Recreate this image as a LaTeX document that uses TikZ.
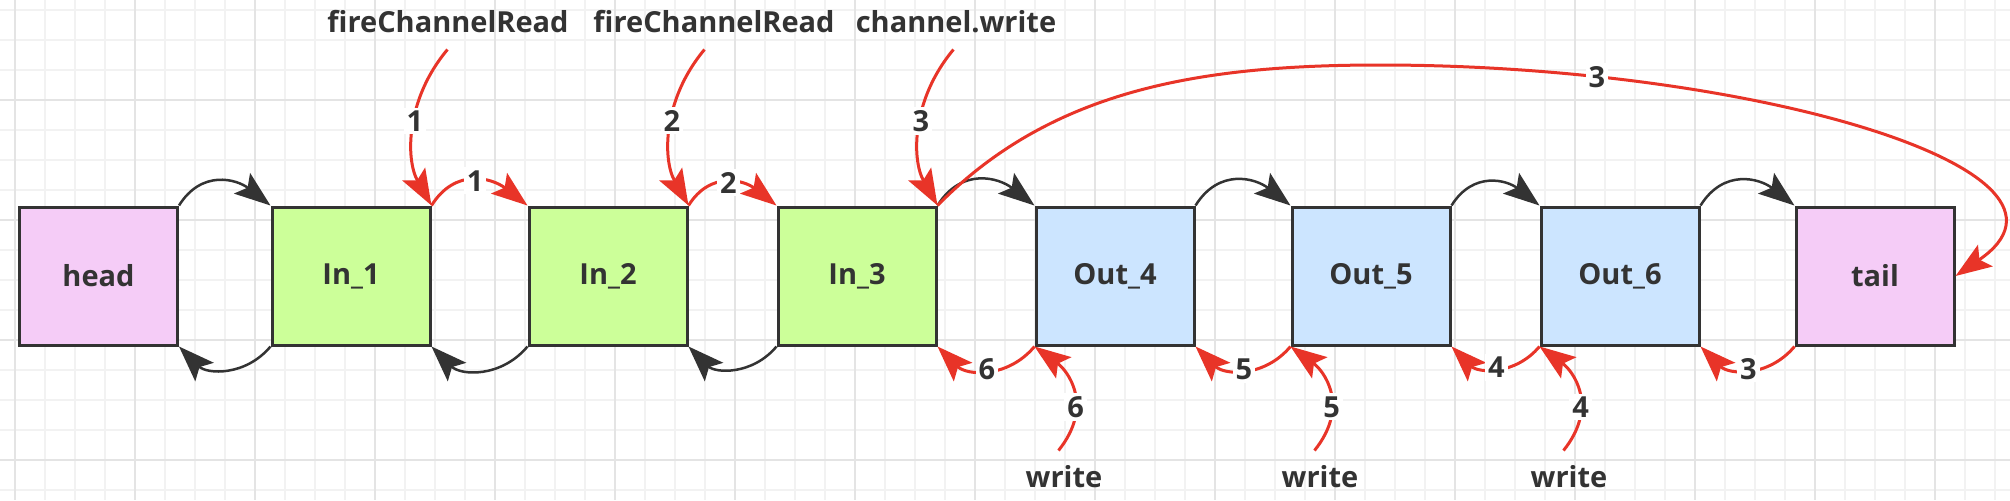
\documentclass[tikz,border=0pt]{standalone}
\usepackage{fontspec}
\setmainfont{Open Sans}
\usetikzlibrary{arrows.meta,calc}
\definecolor{gridminor}{RGB}{242,242,242}
\definecolor{gridmajor}{RGB}{228,228,228}
\definecolor{ink}{RGB}{51,51,51}
\definecolor{redline}{RGB}{232,52,40}
\definecolor{pinkfill}{RGB}{245,204,247}
\definecolor{greenfill}{RGB}{204,255,153}
\definecolor{bluefill}{RGB}{204,229,255}
\begin{document}
\begin{tikzpicture}[x=0.5pt,y=-0.5pt,
  txt/.style={font=\fontsize{14.5}{17}\selectfont\bfseries, text=ink},
  box/.style={txt, draw=ink, line width=1.5pt, minimum width=79pt, minimum height=69pt, inner sep=0pt},
  blk/.style={draw=ink, line width=1.25pt, -{Stealth[length=18pt,width=13pt,inset=3.5pt]}},
  rd/.style={draw=redline, line width=1.5pt, -{Stealth[length=18pt,width=13pt,inset=3.5pt]}},
  lbl/.style={txt, fill=white, inner sep=1.5pt},
  fwd/.style={out=58,in=142,looseness=1.2},
  bwd/.style={out=-130,in=-45,looseness=1.1},
]
\useasboundingbox (0,0) rectangle (2010,500);
\fill[white] (0,0) rectangle (2010,500);
% grid
\foreach \i in {0,...,66} { \draw[gridminor, line width=0.6pt] ({15+30*\i},0) -- ({15+30*\i},500); }
\foreach \i in {0,...,16} { \draw[gridminor, line width=0.6pt] (0,{10+30*\i}) -- (2010,{10+30*\i}); }
\foreach \i in {0,...,16} { \draw[gridmajor, line width=0.6pt] ({15+120*\i},0) -- ({15+120*\i},500); }
\foreach \i in {0,...,3} { \draw[gridmajor, line width=0.6pt] (0,{100+120*\i}) -- (2010,{100+120*\i}); }

% boxes
\node[box, fill=pinkfill]  (head) at (98.5,276) {head};
\node[box, fill=greenfill] (in1)  at (351,276) {In\_1};
\node[box, fill=greenfill] (in2)  at (608,276) {In\_2};
\node[box, fill=greenfill] (in3)  at (857,276) {In\_3};
\node[box, fill=bluefill]  (out4) at (1115,276) {Out\_4};
\node[box, fill=bluefill]  (out5) at (1371,276) {Out\_5};
\node[box, fill=bluefill]  (out6) at (1620,276) {Out\_6};
\node[box, fill=pinkfill]  (tail) at (1875,276) {tail};

% text labels
\node[txt] (t1) at (448,22) {fireChannelRead};
\node[txt] (t2) at (714,22) {fireChannelRead};
\node[txt] (t3) at (956,22) {channel.write};
\node[txt] (w4) at (1064,477) {write};
\node[txt] (w5) at (1320,477) {write};
\node[txt] (w6) at (1569,477) {write};

% black forward arcs (top)
\foreach \a/\b in {head/in1, in3/out4, out4/out5, out5/out6, out6/tail}
  \draw[blk] (\a.north east) to[fwd] (\b.north west);
% black backward arcs (bottom)
\foreach \a/\b in {in1/head, in2/in1, in3/in2}
  \draw[blk] (\a.south west) to[bwd] (\b.south east);

% red forward arcs
\draw[rd] (in1.north east) to[fwd] node[lbl]{1} (in2.north west);
\draw[rd] (in2.north east) to[fwd] node[lbl]{2} (in3.north west);
% red backward arcs
\draw[rd] (out4.south west) to[bwd] node[lbl]{6} (in3.south east);
\draw[rd] (out5.south west) to[bwd] node[lbl]{5} (out4.south east);
\draw[rd] (out6.south west) to[bwd] node[lbl]{4} (out5.south east);
\draw[rd] (tail.south west) to[bwd] node[lbl]{3} (out6.south east);

% red calls from top
\coordinate (s1) at ([shift={(16,-156)}]in1.north east);
\coordinate (s2) at ([shift={(16,-156)}]in2.north east);
\coordinate (s3) at ([shift={(16,-156)}]in3.north east);
\draw[rd] (s1) .. controls +(-42,50) and +(-26,-46) .. (in1.north east) node[pos=0.45,lbl]{1};
\draw[rd] (s2) .. controls +(-42,50) and +(-26,-46) .. (in2.north east) node[pos=0.45,lbl]{2};
\draw[rd] (s3) .. controls +(-42,50) and +(-26,-46) .. (in3.north east) node[pos=0.45,lbl]{3};

% red calls from bottom
\coordinate (b4) at ([shift={(24,104)}]out4.south west);
\coordinate (b5) at ([shift={(24,104)}]out5.south west);
\coordinate (b6) at ([shift={(24,104)}]out6.south west);
\draw[rd] (b4) .. controls +(36,-45) and +(33,24) .. (out4.south west) node[pos=0.35,lbl]{6};
\draw[rd] (b5) .. controls +(36,-45) and +(33,24) .. (out5.south west) node[pos=0.35,lbl]{5};
\draw[rd] (b6) .. controls +(36,-45) and +(33,24) .. (out6.south west) node[pos=0.35,lbl]{4};

% big arc In_3 -> tail
\coordinate (arctop) at (1380,65);
\draw[rd] (in3.north east) .. controls +(114,-116) and +(-180,0) .. (arctop)
  .. controls +(370,0) and +(155,-106) .. (tail.east) node[pos=0.2,lbl]{3};
\end{tikzpicture}
\end{document}
